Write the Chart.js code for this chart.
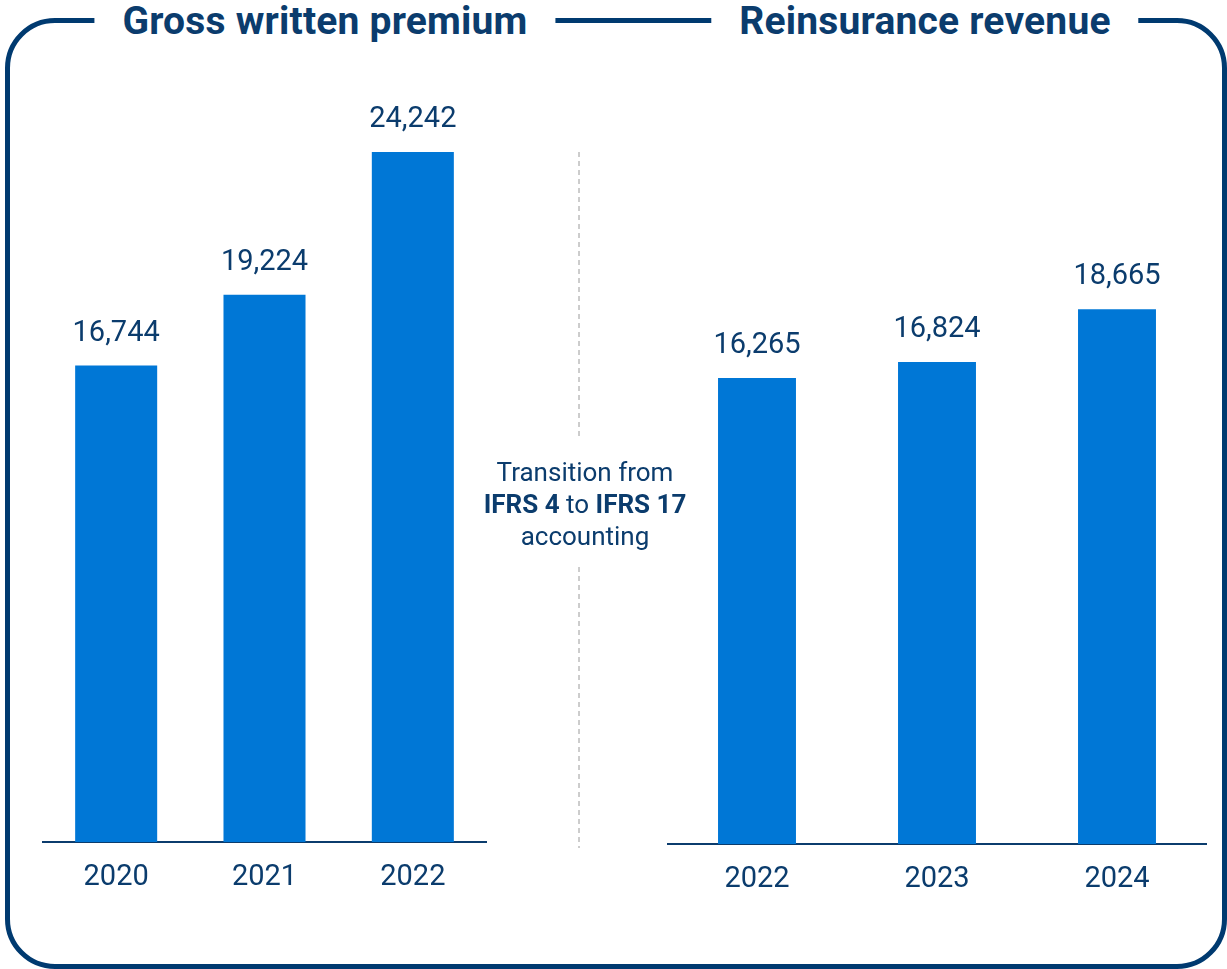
<!DOCTYPE html>
<html>
<head>
<meta charset="utf-8">
<script src="https://cdn.jsdelivr.net/npm/chart.js@4.4.1/dist/chart.umd.min.js"></script>
<style>
  html, body { margin: 0; padding: 0; background: #fff; }
  #stage { position: relative; width: 1227px; height: 969px; overflow: hidden;
           font-family: Roboto, "Liberation Sans", sans-serif; color: #0b3c6d; }
  .frame { position: absolute; left: 5px; top: 18px; width: 1222px; height: 951px;
           box-sizing: border-box; border: 5px solid #003a70; border-radius: 50px; }
  .title { position: absolute; top: 0; height: 42px; line-height: 42px; background: #fff;
           padding: 0 28px; font-weight: 700; font-size: 39px; letter-spacing: 0.2px;
           transform: translateX(-50%); white-space: nowrap; color: #0b3c6d; }
  .chart { position: absolute; top: 0; }
  .divider { position: absolute; left: 578px; width: 2px; }
  .note { position: absolute; left: 585px; top: 456px; transform: translateX(-50%);
          font-size: 26px; line-height: 32px; text-align: center; white-space: nowrap; }
  .note b { font-weight: 700; }
</style>
</head>
<body>
<div id="stage">
  <div class="frame"></div>
  <div class="title" style="left:325px">Gross written premium</div>
  <div class="title" style="left:925px">Reinsurance revenue</div>

  <canvas id="gwp" class="chart" style="left:42px" width="445" height="895"></canvas>
  <canvas id="rev" class="chart" style="left:667px" width="540" height="897"></canvas>

  <svg class="divider" style="top:152px" width="2" height="284"><line x1="1" y1="0" x2="1" y2="284" stroke="#9a9a9a" stroke-width="1" stroke-dasharray="5 4"/></svg>
  <svg class="divider" style="top:567px" width="2" height="281"><line x1="1" y1="0" x2="1" y2="281" stroke="#9a9a9a" stroke-width="1" stroke-dasharray="5 4"/></svg>

  <div class="note">Transition from<br><b>IFRS 4</b> to <b>IFRS 17</b><br>accounting</div>
</div>

<script>
// Gross written premium (IFRS 4), USD millions
const gwpYears = ['2020', '2021', '2022'];
const gwpValues = [16744, 19224, 24242];

// Reinsurance revenue (IFRS 17), USD millions
const revYears = ['2022', '2023', '2024'];
const revValues = [16265, 16824, 18665];

const axisMax = 26000;

const NAVY = '#0b3c6d';
const BAR = '#0077d6';

// Writes each bar's value above it
const valueLabels = {
  id: 'valueLabels',
  afterDatasetsDraw(chart) {
    const ctx = chart.ctx;
    const ds = chart.data.datasets[0];
    ctx.save();
    ctx.font = '29px Roboto, "Liberation Sans", sans-serif';
    ctx.fillStyle = NAVY;
    ctx.textAlign = 'center';
    ctx.textBaseline = 'middle';
    chart.getDatasetMeta(0).data.forEach((bar, i) => {
      ctx.fillText(ds.data[i].toLocaleString('en-US'), bar.x, bar.y - 32);
    });
    ctx.restore();
  }
};

function barChart(id, labels, values, barPct, padTop) {
  return new Chart(document.getElementById(id), {
    type: 'bar',
    data: {
      labels: labels,
      datasets: [{
        data: values,
        backgroundColor: BAR,
        borderWidth: 0,
        categoryPercentage: 1,
        barPercentage: barPct
      }]
    },
    options: {
      responsive: false,
      animation: false,
      layout: { padding: { top: padTop, left: 0, right: 0, bottom: 0 } },
      plugins: { legend: { display: false }, tooltip: { enabled: false } },
      scales: {
        x: {
          z: 1,
          grid: { display: true, drawOnChartArea: false, drawTicks: false },
          border: { display: true, color: '#0b3c6d', width: 2 },
          ticks: { color: NAVY, padding: 18, font: { family: 'Roboto, "Liberation Sans", sans-serif', size: 29 } },
          afterFit(scale) { scale.height = 53; }
        },
        y: { display: false, min: 0, max: axisMax }
      }
    },
    plugins: [valueLabels]
  });
}

barChart('gwp', gwpYears, gwpValues, 0.553, 102);
barChart('rev', revYears, revValues, 0.433, 99);
</script>
</body>
</html>
